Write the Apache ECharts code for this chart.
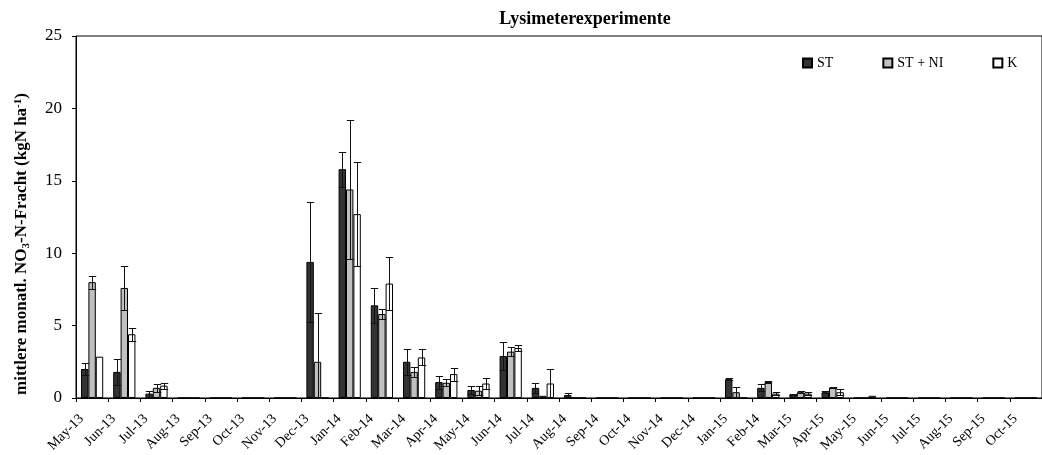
<!DOCTYPE html>
<html>
<head>
<meta charset="utf-8">
<script src="https://cdn.jsdelivr.net/npm/echarts@6/dist/echarts.min.js"></script>
<style>html,body{margin:0;padding:0;background:#fff}#c{width:1042px;height:455px}</style>
</head>
<body>
<div id="c"></div>
<script>
const categories = ['May-13','Jun-13','Jul-13','Aug-13','Sep-13','Oct-13','Nov-13','Dec-13','Jan-14','Feb-14','Mar-14','Apr-14','May-14','Jun-14','Jul-14','Aug-14','Sep-14','Oct-14','Nov-14','Dec-14','Jan-15','Feb-14','Mar-15','Apr-15','May-15','Jun-15','Jul-15','Aug-15','Sep-15','Oct-15'];
const seriesNames = ['ST', 'ST + NI', 'K'];
const stValues   = [2.0, 1.8, 0.3, 0, 0, 0, 0, 9.4, 15.8, 6.4, 2.5, 1.1, 0.55, 2.9, 0.7, 0.2, 0, 0, 0, 0, 1.3, 0.7, 0.25, 0.4, 0, 0, 0, 0, 0, 0];
const stniValues = [8.0, 7.6, 0.7, 0, 0, 0, 0, 2.5, 14.4, 5.8, 1.8, 1.05, 0.5, 3.2, 0.15, 0, 0, 0, 0, 0, 0.4, 1.1, 0.4, 0.72, 0, 0, 0, 0, 0, 0];
const kValues    = [2.85, 4.4, 0.85, 0, 0, 0, 0, 0, 12.7, 7.9, 2.8, 1.65, 1.0, 3.45, 1.0, 0, 0, 0, 0, 0, 0, 0.3, 0.3, 0.4, 0.15, 0, 0, 0, 0, 0];
const stErr   = [0.4, 0.9, 0.2, 0, 0, 0, 0, 4.15, 1.2, 1.2, 0.9, 0.45, 0.3, 0.95, 0.35, 0.12, 0, 0, 0, 0, 0.05, 0.25, 0.05, 0.05, 0, 0, 0, 0, 0, 0];
const stniErr = [0.45, 1.5, 0.3, 0, 0, 0, 0, 3.4, 4.8, 0.35, 0.35, 0.25, 0.3, 0.3, 0, 0, 0, 0, 0, 0, 0.35, 0.05, 0.05, 0.05, 0, 0, 0, 0, 0, 0];
const kErr    = [0, 0.45, 0.2, 0, 0, 0, 0, 0, 3.6, 1.85, 0.55, 0.45, 0.35, 0.2, 1.0, 0, 0, 0, 0, 0, 0, 0.1, 0.1, 0.2, 0, 0, 0, 0, 0, 0];
const yTicks = { min: 0, max: 25, interval: 5 };
const titleText = 'Lysimeterexperimente';

const FONT = '"Liberation Serif", "Times New Roman", serif';
const BAR_W = 0.23;

function errSeries(vals, errs, slot) {
  return {
    type: 'custom',
    silent: true,
    z: 10,
    renderItem: function (params, api) {
      const i = api.value(0), v = api.value(1), e = api.value(2);
      if (!e) return null;
      const bw = api.size([1, 0])[0] * BAR_W;
      const cx = Math.round(api.coord([i, 0])[0] + (slot - 1) * bw) + 0.5;
      const top = Math.round(api.coord([i, v + e])[1]) + 0.5;
      const bot = Math.round(api.coord([i, Math.max(0, v - e)])[1]) + 0.5;
      const h = bw / 2;
      const st = { stroke: '#111', lineWidth: 1 };
      return {
        type: 'group',
        children: [
          { type: 'line', shape: { x1: cx, y1: top, x2: cx, y2: bot }, style: st },
          { type: 'line', shape: { x1: cx - h, y1: top, x2: cx + h, y2: top }, style: st },
          { type: 'line', shape: { x1: cx - h, y1: bot, x2: cx + h, y2: bot }, style: st }
        ]
      };
    },
    data: vals.map((v, i) => [i, v, errs[i]])
  };
}

const chart = echarts.init(document.getElementById('c'), null, { renderer: 'canvas' });
chart.setOption({
  animation: false,
  backgroundColor: '#fff',
  textStyle: { fontFamily: FONT, color: '#000' },
  grid: { left: 76, top: 36, bottom: 57, right: -9, show: true, borderColor: '#000', borderWidth: 1, backgroundColor: 'transparent' },
  legend: {
    data: seriesNames,
    left: 797, top: 51,
    itemWidth: 9, itemHeight: 9, itemGap: 49,
    icon: 'rect',
    textStyle: { fontFamily: FONT, fontSize: 14, color: '#000' }
  },
  xAxis: {
    type: 'category',
    data: categories,
    boundaryGap: true,
    axisLine: { lineStyle: { color: '#000', width: 1 } },
    axisTick: { show: true, interval: 0, length: 4, lineStyle: { color: '#000' } },
    axisLabel: { interval: 0, rotate: 45, fontFamily: FONT, fontSize: 14, color: '#000', margin: 8, padding: [0, 15, 0, 0] },
    splitLine: { show: false }
  },
  yAxis: {
    type: 'value',
    min: yTicks.min, max: yTicks.max, interval: yTicks.interval,
    axisLine: { show: true, lineStyle: { color: '#000', width: 1 } },
    axisTick: { show: true, length: 4, lineStyle: { color: '#000' } },
    axisLabel: { fontFamily: FONT, fontSize: 17, color: '#000', margin: 14 },
    splitLine: { show: false }
  },
  graphic: [
    {
      type: 'text', x: 585, y: 19,
      style: { text: titleText, font: 'bold 18px ' + FONT, fill: '#000', align: 'center', verticalAlign: 'middle' }
    },
    {
      type: 'text', x: 22, y: 244, rotation: Math.PI / 2,
      style: {
        text: '{m|mittlere monatl. NO}{s|3}{m|-N-Fracht (kgN ha}{p|-1}{m|)}',
        align: 'center', verticalAlign: 'middle',
        rich: {
          m: { fontFamily: FONT, fontWeight: 'bold', fontSize: 17, fill: '#000', lineHeight: 19, verticalAlign: 'middle' },
          s: { fontFamily: FONT, fontWeight: 'bold', fontSize: 11, fill: '#000', lineHeight: 11, verticalAlign: 'bottom' },
          p: { fontFamily: FONT, fontWeight: 'bold', fontSize: 11, fill: '#000', lineHeight: 11, verticalAlign: 'top' }
        }
      }
    }
  ],
  series: [
    { name: seriesNames[0], type: 'bar', data: stValues, barWidth: (BAR_W * 100) + '%', barGap: '0%',
      itemStyle: { color: '#333333', borderColor: '#000', borderWidth: 1 } },
    { name: seriesNames[1], type: 'bar', data: stniValues, barWidth: (BAR_W * 100) + '%', barGap: '0%',
      itemStyle: { color: '#c0c0c0', borderColor: '#000', borderWidth: 1 } },
    { name: seriesNames[2], type: 'bar', data: kValues, barWidth: (BAR_W * 100) + '%', barGap: '0%',
      itemStyle: { color: '#ffffff', borderColor: '#000', borderWidth: 1 } },
    errSeries(stValues, stErr, 0),
    errSeries(stniValues, stniErr, 1),
    errSeries(kValues, kErr, 2)
  ]
});
</script>
</body>
</html>
